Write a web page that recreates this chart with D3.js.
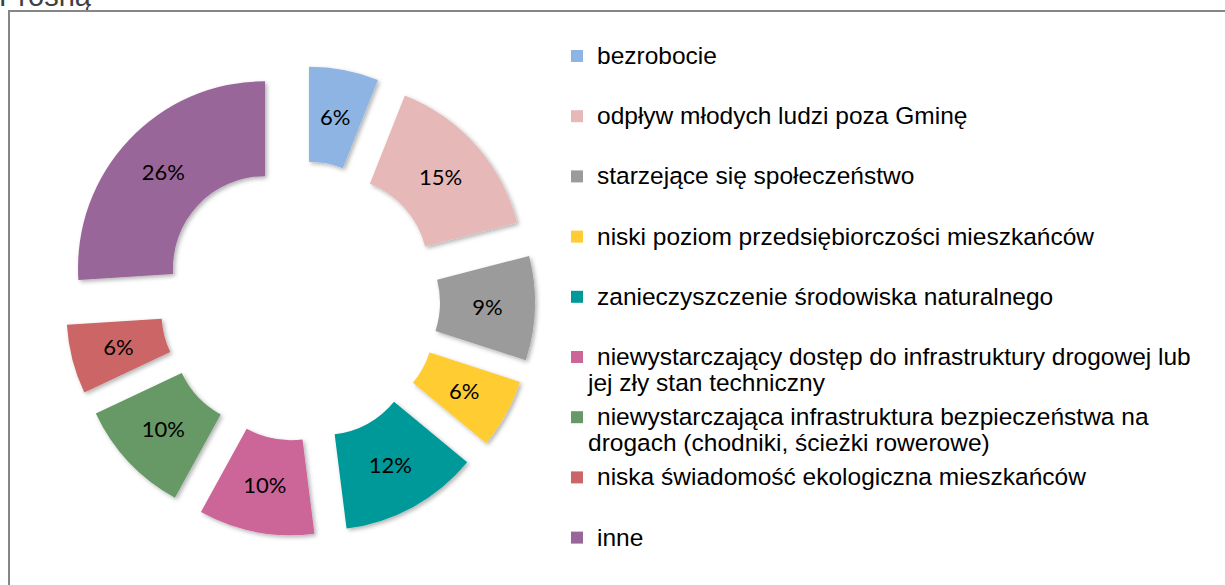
<!DOCTYPE html>
<html>
<head>
<meta charset="utf-8">
<script src="https://cdn.jsdelivr.net/npm/d3@7"></script>
<style>
	body { margin: 0; background: #fff; }
	svg { display: block; }
</style>
</head>
<body>
<div id="chart-area"></div>
<script>
const FWIDTH = 1225,
	FHEIGHT = 585;

// data
const categories = [
	"bezrobocie",
	"odpływ młodych ludzi poza Gminę",
	"starzejące się społeczeństwo",
	"niski poziom przedsiębiorczości mieszkańców",
	"zanieczyszczenie środowiska naturalnego",
	"niewystarczający dostęp do infrastruktury drogowej lub\njej zły stan techniczny",
	"niewystarczająca infrastruktura bezpieczeństwa na\ndrogach (chodniki, ścieżki rowerowe)",
	"niska świadomość ekologiczna mieszkańców",
	"inne",
];
const values = [6, 15, 9, 6, 12, 10, 10, 6, 26];
const colors = [
	"#8EB4E3",
	"#E6B9B8",
	"#9B9B9B",
	"#FFCC33",
	"#009999",
	"#CC6699",
	"#669966",
	"#CC6666",
	"#996699",
];
const titleText = "Prosną";

const CENTER = { X: 300, Y: 301 };
const R_OUTER = 187,
	R_INNER = 92,
	EXPLODE = 48;

const svg = d3
	.select("#chart-area")
	.append("svg")
	.attr("width", FWIDTH)
	.attr("height", FHEIGHT);

// shadow under slices
const defs = svg.append("defs");
defs.append("filter")
	.attr("id", "shadow")
	.attr("x", "-20%")
	.attr("y", "-20%")
	.attr("width", "140%")
	.attr("height", "140%")
	.append("feDropShadow")
	.attr("dx", 2)
	.attr("dy", 2)
	.attr("stdDeviation", 2)
	.attr("flood-color", "#000")
	.attr("flood-opacity", 0.3);

// title (cut off at the top, as in the source) and frame
svg.append("text")
	.attr("x", -1)
	.attr("y", 6)
	.style("font-family", "'Liberation Sans', Arial, sans-serif")
	.style("font-size", "29px")
	.style("fill", "#404040")
	.text(titleText);

svg.append("path")
	.attr("d", `M9,${FHEIGHT + 5}V11H${FWIDTH + 5}`)
	.attr("fill", "none")
	.attr("stroke", "#868686")
	.attr("stroke-width", 2);

const data = categories.map((c, i) => ({ name: c, value: values[i], color: colors[i] }));

const pie = d3
	.pie()
	.sort(null)
	.value((d) => d.value);

const arc = d3.arc().innerRadius(R_INNER).outerRadius(R_OUTER);

const g = svg
	.append("g")
	.attr("transform", `translate(${CENTER.X}, ${CENTER.Y})`);

// every slice is pulled out along its bisector
const offset = (d) => {
	const a = (d.startAngle + d.endAngle) / 2;
	return [EXPLODE * Math.sin(a), -EXPLODE * Math.cos(a)];
};

const slices = g
	.selectAll(".slice")
	.data(pie(data))
	.enter()
	.append("g")
	.attr("class", "slice")
	.attr("transform", (d) => `translate(${offset(d)})`);

slices
	.append("path")
	.attr("d", arc)
	.style("fill", (d) => d.data.color)
	.attr("filter", "url(#shadow)");

slices
	.append("text")
	.attr("transform", (d) => `translate(${arc.centroid(d)})`)
	.attr("text-anchor", "middle")
	.attr("dy", "0.35em")
	.style("font-family", "Lato, Carlito, Calibri, sans-serif")
	.style("font-size", "22px")
	.style("fill", "#000")
	.text((d) => d.data.value + "%");

//legend
const LEGEND = { X: 571, Y: 56, STEP: 60.2, LINE: 25.5, BOX: 12 };

const legendItems = svg
	.append("g")
	.attr("class", "legend")
	.selectAll(".legend-item")
	.data(data)
	.enter()
	.append("g")
	.attr("class", "legend-item")
	.attr("transform", (d, i) => `translate(${LEGEND.X}, ${LEGEND.Y + i * LEGEND.STEP})`);

legendItems
	.append("rect")
	.attr("x", 0)
	.attr("y", -LEGEND.BOX / 2)
	.attr("width", LEGEND.BOX)
	.attr("height", LEGEND.BOX)
	.style("fill", (d) => d.color);

legendItems.each(function (d) {
	const lines = d.name.split("\n");
	const t = d3
		.select(this)
		.append("text")
		.style("font-family", "'Liberation Sans', Arial, sans-serif")
		.style("font-size", "24.5px")
		.style("fill", "#000");
	lines.forEach((line, j) => {
		t.append("tspan")
			.attr("x", j === 0 ? 26 : 17)
			.attr("y", 8 + j * LEGEND.LINE)
			.text(line);
	});
});
</script>
</body>
</html>
